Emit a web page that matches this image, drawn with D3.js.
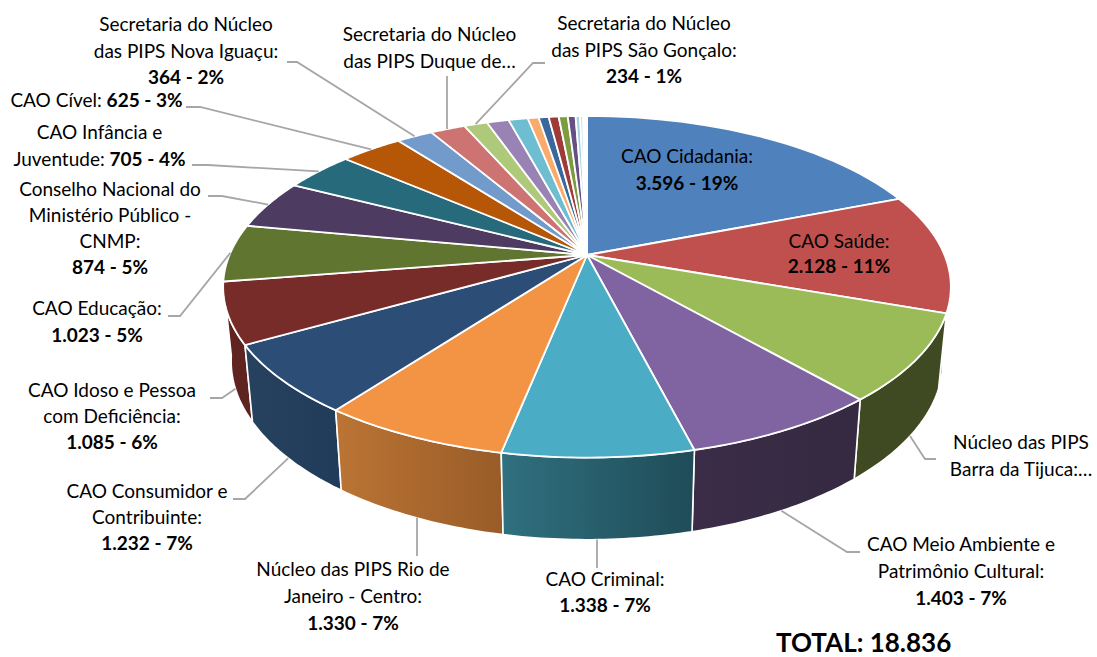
<!DOCTYPE html>
<html><head><meta charset="utf-8">
<script src="https://cdn.jsdelivr.net/npm/d3@7"></script>
<style>html,body{margin:0;background:#fff}svg{display:block}text{font-family:Lato,"Open Sans",sans-serif;fill:#000}</style>
</head><body><script>
const values = [3596,2128,1545,1403,1338,1330,1232,1085,1023,874,705,625,364,349,234,220,193,110,100,100,90,78,45,30,20,12,7];
const names = ["CAO Cidadania","CAO Saúde","Núcleo das PIPS Barra da Tijuca","CAO Meio Ambiente e Patrimônio Cultural","CAO Criminal","Núcleo das PIPS Rio de Janeiro - Centro","CAO Consumidor e Contribuinte","CAO Idoso e Pessoa com Deficiência","CAO Educação","Conselho Nacional do Ministério Público - CNMP","CAO Infância e Juventude","CAO Cível","Secretaria do Núcleo das PIPS Nova Iguaçu","Secretaria do Núcleo das PIPS Duque de…","Secretaria do Núcleo das PIPS São Gonçalo"];
const topColors = ["#4F81BD","#C0504D","#9BBB59","#8064A2","#4BACC6","#F39444","#2C4D75","#772C2A","#5F7530","#4D3B62","#276A7C","#B65708","#729ACA","#CD7371","#AFC97A","#9983B5","#6FBDD1","#F9AB6B","#3A679C","#9E3B38","#7D9C40","#664F83","#A5D5E3","#C6D9F1","#FAC090","#F2DCDB","#EBF1DE"];
const wallFrom = ["#3a5f8c","#8e3b39","#3F4A22","#3B2C47","#30707F","#BB7434","#27425F","#5F2320","#465724","#382B48","#1C4E5B","#864006","#547299","#985553","#82955A","#715F86","#52889A","#B87F4F","#2A4C73","#752B29","#5C742F","#4B3A61","#2C687A","#965A26","#6985A8"];
const wallTo = ["#3a5f8c","#8e3b39","#3F4A22","#352A42","#1F4C58","#995C28","#203C5A","#5F2320","#465724","#382B48","#1C4E5B","#864006","#547299","#985553","#82955A","#715F86","#52889A","#B87F4F","#2A4C73","#752B29","#5C742F","#4B3A61","#2C687A","#965A26","#6985A8"];

const W = 1097, H = 657;
const cx = 587, cy = 255, A = 357.5, B = 164.9, p = 0.186;
const svg = d3.select("body").append("svg").attr("width",W).attr("height",H);
const defs = svg.append("defs");

const pie = d3.pie().sort(null).startAngle(0).endAngle(2*Math.PI);
const arcs = pie(values);
const total = d3.sum(values);

// perspective projection of the disc
const P = (t,r=1) => { const u=r*Math.sin(t), v=-r*Math.cos(t), d=1-p*v; return [cx+A*u/d, cy+B*v/d]; };
const Q = t => { const [x,y]=P(t); return [cx+(x-cx)*0.978, cy+73+(y-cy)*1.045]; };
const line = d3.line();
const samples = (a,f) => d3.range(0,31).map(i=>f(a.startAngle+(a.endAngle-a.startAngle)*i/30));

// walls, back to front
const order = arcs.map((a,i)=>({a,i})).sort((m,n)=>Math.cos(n.a.startAngle/2+n.a.endAngle/2)-Math.cos(m.a.startAngle/2+m.a.endAngle/2));
order.forEach(({a,i})=>{
  const id="w"+i, g=defs.append("linearGradient").attr("id",id);
  g.append("stop").attr("offset",0).attr("stop-color",wallFrom[i%wallFrom.length]);
  g.append("stop").attr("offset",1).attr("stop-color",wallTo[i%wallTo.length]);
  svg.append("path").attr("d",line(samples(a,P).concat(samples(a,Q).reverse()))+"Z")
    .attr("fill",`url(#${id})`).attr("stroke","#fff").attr("stroke-width",1.6).attr("stroke-linejoin","round");
});
// top face
arcs.forEach((a,i)=>{
  svg.append("path").attr("d",line([[cx,cy]].concat(samples(a,P)))+"Z")
    .attr("fill",topColors[i]).attr("stroke","#fff").attr("stroke-width",1.8).attr("stroke-linejoin","round");
});

// labels
const fmtN = d3.formatLocale({decimal:",",thousands:".",grouping:[3],currency:["",""]}).format(",d");
const val = i => `${fmtN(values[i])} - ${Math.round(values[i]/total*100)}%`;
const R = t => [{t}], Bd = i => [{t:val(i),b:1}];
const FS = 19;
const labels = [
 {i:0,x:687,y:[163,190],l:[R("CAO Cidadania:"),Bd(0)]},
 {i:1,x:839,y:[248,273],l:[R("CAO Saúde:"),Bd(1)]},
 {i:2,x:1021,y:[449,476],l:[R("Núcleo das PIPS"),R("Barra da Tijuca:…")],lead:[[936,459],[925,459]],at:Q},
 {i:3,x:961,y:[551,578,605],l:[R("CAO Meio Ambiente e"),R("Patrimônio Cultural:"),Bd(3)],lead:[[860,552],[847,552]],at:Q},
 {i:4,x:605,y:[586,612],l:[R("CAO Criminal:"),Bd(4)],lead:[[597,568]],at:Q,vert:1},
 {i:5,x:353,y:[576,603,630],l:[R("Núcleo das PIPS Rio de"),R("Janeiro - Centro:"),Bd(5)],lead:[[417,556]],at:Q,vert:1},
 {i:6,x:147,y:[498,524,550],l:[R("CAO Consumidor e"),R("Contribuinte:"),Bd(6)],lead:[[233,499],[245,499]],at:Q},
 {i:7,x:112,y:[397,423,449],l:[R("CAO Idoso e Pessoa"),R("com Deficiência:"),Bd(7)],lead:[[210,398],[222,398]],at:Q},
 {i:8,x:97,y:[315,342],l:[R("CAO Educação:"),Bd(8)],lead:[[168,316],[180,316]],at:P},
 {i:9,x:110,y:[196,222,248,274],l:[R("Conselho Nacional do"),R("Ministério Público -"),R("CNMP:"),Bd(9)],lead:[[208,196],[222,196]],at:P},
 {i:10,x:99.5,y:[139,166],l:[R("CAO Infância e"),[{t:"Juventude: "},{t:val(10),b:1}]],lead:[[192,165],[208,165]],at:P},
 {i:11,x:96.5,y:[107],l:[[{t:"CAO Cível: "},{t:val(11),b:1}]],lead:[[186,107],[200,107]],at:P},
 {i:12,x:186,y:[31,58,84],l:[R("Secretaria do Núcleo"),R("das PIPS Nova Iguaçu:"),Bd(12)],lead:[[287,62],[297,62]],at:P},
 {i:13,x:429.5,y:[41,68],l:[R("Secretaria do Núcleo"),R("das PIPS Duque de…")],lead:[[447,76]],at:P,vert:1},
 {i:14,x:644,y:[30,57,83],l:[R("Secretaria do Núcleo"),R("das PIPS São Gonçalo:"),Bd(14)],lead:[[545,63],[533,63]],at:P},
];
labels.forEach(o=>{
  if(o.lead){
    const a=arcs[o.i], t=(a.startAngle+a.endAngle)/2;
    let end=o.at(t);
    if(o.vert) end=[o.lead[0][0],end[1]];
    svg.append("path").attr("d",line(o.lead.concat([end]))).attr("fill","none").attr("stroke","#A6A6A6").attr("stroke-width",1.8);
  }
  o.l.forEach((segs,k)=>{
    const tx=svg.append("text").attr("x",o.x).attr("y",o.y[k]).attr("text-anchor","middle").attr("font-size",FS);
    segs.forEach(s=>tx.append("tspan").text(s.t).attr("font-weight",s.b?700:400));
  });
});
svg.append("text").attr("x",776).attr("y",651.5).attr("font-size",26).attr("font-weight",700).text("TOTAL: "+fmtN(total));
</script></body></html>
